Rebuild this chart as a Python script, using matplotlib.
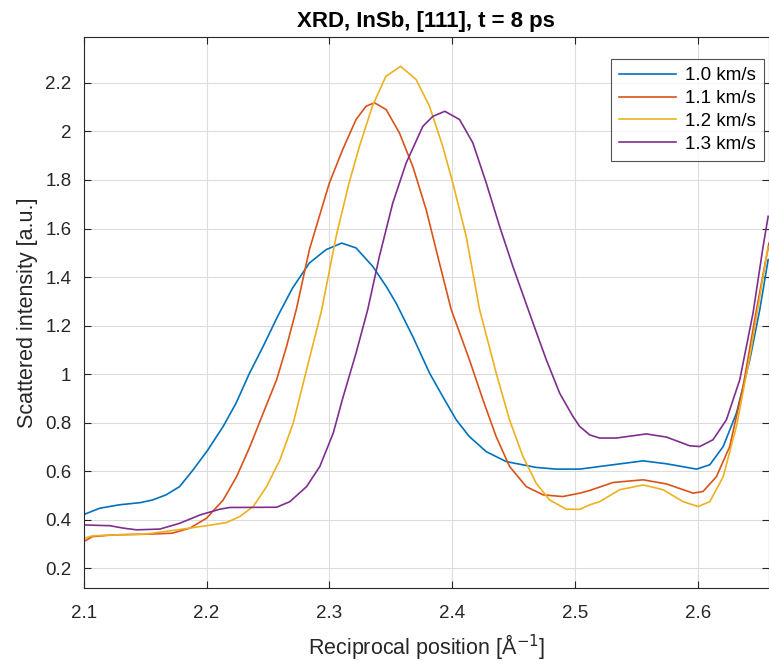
import matplotlib
matplotlib.use("Agg")
import matplotlib.pyplot as plt

plt.rcParams['font.family'] = ['Liberation Sans', 'DejaVu Sans']

labels = ["1.0 km/s", "1.1 km/s", "1.2 km/s", "1.3 km/s"]
colors = ["#0072BD", "#D95319", "#EDB120", "#7E2F8E"]

x_10 = [2.100, 2.113, 2.129, 2.146, 2.156, 2.167, 2.178, 2.189, 2.201, 2.2135, 2.224, 2.235,
        2.246, 2.258, 2.270, 2.2837, 2.2973, 2.310, 2.3217, 2.3353, 2.3462, 2.3543, 2.3679,
        2.3815, 2.3923, 2.4033, 2.414, 2.4277, 2.444, 2.4684, 2.4848, 2.5038, 2.531, 2.5555,
        2.5745, 2.599, 2.6098, 2.6207, 2.6315, 2.6424, 2.6505, 2.6573]
y_10 = [0.422, 0.448, 0.462, 0.471, 0.482, 0.503, 0.537, 0.606, 0.688, 0.785, 0.881, 1.005,
        1.114, 1.240, 1.355, 1.458, 1.513, 1.540, 1.520, 1.444, 1.362, 1.293, 1.155,
        1.005, 0.908, 0.812, 0.743, 0.681, 0.640, 0.616, 0.609, 0.609, 0.627, 0.643,
        0.631, 0.609, 0.627, 0.702, 0.840, 1.060, 1.266, 1.472]

x_11 = [2.100, 2.107, 2.1237, 2.151, 2.172, 2.1864, 2.200, 2.2135, 2.2244, 2.2353, 2.2461,
        2.257, 2.2651, 2.2733, 2.2837, 2.2918, 2.300, 2.3108, 2.3217, 2.3299, 2.3367, 2.3462,
        2.357, 2.3679, 2.3788, 2.3896, 2.3992, 2.414, 2.425, 2.4358, 2.4467, 2.4603, 2.474,
        2.490, 2.5038, 2.512, 2.531, 2.5555, 2.5745, 2.5962, 2.6043, 2.6152, 2.626, 2.6369,
        2.6478, 2.6559, 2.658]
y_11 = [0.311, 0.331, 0.338, 0.341, 0.345, 0.366, 0.407, 0.482, 0.578, 0.702, 0.840,
        0.977, 1.114, 1.272, 1.513, 1.650, 1.788, 1.925, 2.049, 2.104, 2.118, 2.090,
        1.994, 1.856, 1.678, 1.458, 1.266, 1.060, 0.895, 0.743, 0.620, 0.537, 0.503,
        0.496, 0.510, 0.521, 0.554, 0.565, 0.548, 0.510, 0.517, 0.578, 0.702, 0.949,
        1.266, 1.485, 1.540]

x_12 = [2.100, 2.107, 2.1237, 2.151, 2.172, 2.200, 2.2163, 2.2271, 2.238, 2.2488, 2.2597,
        2.2705, 2.2814, 2.2935, 2.3055, 2.316, 2.3245, 2.335, 2.346, 2.358, 2.3706, 2.3815,
        2.3923, 2.4005, 2.4114, 2.4223, 2.4358, 2.4467, 2.4576, 2.4684, 2.4793, 2.4929,
        2.5038, 2.512, 2.5201, 2.5364, 2.5555, 2.5718, 2.588, 2.6003, 2.6098, 2.6207, 2.6315,
        2.6424, 2.6519, 2.6573]
y_12 = [0.324, 0.334, 0.338, 0.342, 0.356, 0.376, 0.389, 0.414, 0.455, 0.537, 0.647,
        0.798, 1.018, 1.260, 1.568, 1.788, 1.939, 2.104, 2.227, 2.268, 2.214, 2.104,
        1.939, 1.788, 1.568, 1.266, 1.005, 0.812, 0.661, 0.551, 0.482, 0.444,
        0.443, 0.462, 0.475, 0.524, 0.544, 0.524, 0.475, 0.455, 0.475, 0.578, 0.785,
        1.073, 1.362, 1.526]

x_13 = [2.100, 2.1212, 2.1321, 2.1429, 2.1619, 2.1782, 2.1945, 2.2108, 2.2189, 2.257, 2.2678,
        2.2814, 2.2922, 2.3031, 2.3108, 2.3217, 2.3312, 2.3407, 2.3516, 2.3625, 2.3761, 2.3842,
        2.394, 2.406, 2.4168, 2.4277, 2.4386, 2.4494, 2.4549, 2.4658, 2.4766, 2.4875, 2.4983,
        2.5038, 2.512, 2.5201, 2.5337, 2.5581, 2.5745, 2.5935, 2.6016, 2.6124, 2.6233, 2.6342,
        2.645, 2.6532, 2.6573]
y_13 = [0.379, 0.376, 0.366, 0.359, 0.362, 0.386, 0.420, 0.444, 0.451, 0.452, 0.475,
        0.537, 0.620, 0.757, 0.900, 1.087, 1.266, 1.485, 1.705, 1.870, 2.021, 2.062,
        2.083, 2.049, 1.953, 1.788, 1.609, 1.444, 1.366, 1.211, 1.060, 0.922, 0.826,
        0.785, 0.750, 0.737, 0.737, 0.754, 0.741, 0.705, 0.702, 0.730, 0.812, 0.977,
        1.252, 1.526, 1.650]

series_x = [x_10, x_11, x_12, x_13]
series_y = [y_10, y_11, y_12, y_13]

xticks = [2.1, 2.2, 2.3, 2.4, 2.5, 2.6]
yticks = [0.2, 0.4, 0.6, 0.8, 1.0, 1.2, 1.4, 1.6, 1.8, 2.0, 2.2]
yticklabels = ["0.2", "0.4", "0.6", "0.8", "1", "1.2", "1.4", "1.6", "1.8", "2", "2.2"]

fig = plt.figure(figsize=(7.69, 6.68), dpi=100)
ax = fig.add_axes([0.109, 0.12, 0.891, 0.825])

for xs, ys, c, lab in zip(series_x, series_y, colors, labels):
    ax.plot(xs, ys, color=c, lw=1.2, label=lab, solid_joinstyle="round")

ax.set_xlim(2.1, 2.658)
ax.set_ylim(0.12, 2.39)
ax.set_xticks(xticks)
ax.set_xticklabels([f"{t:.1f}" for t in xticks])
ax.set_yticks(yticks)
ax.set_yticklabels(yticklabels)

axc = "#262626"
for s in ax.spines.values():
    s.set_color(axc)
    s.set_linewidth(0.8)
ax.tick_params(direction="in", top=True, right=True, length=5, width=0.8,
               colors=axc, labelsize=13.5, labelcolor=axc)
ax.tick_params(axis="x", pad=12.5)
ax.tick_params(axis="y", pad=9)
ax.grid(True, color="#dcdcdc", lw=0.8)
ax.set_axisbelow(True)

ax.set_title("XRD, InSb, [111], t = 8 ps", fontsize=16, fontweight="bold", color="#000000", pad=7)
ax.set_xlabel("Reciprocal position [Å$^{-1}$]", fontsize=15.5, color=axc, labelpad=7.5)
ax.set_ylabel("Scattered intensity [a.u.]", fontsize=15.5, color=axc, labelpad=5)

leg = ax.legend(loc="upper right", bbox_to_anchor=(0.993, 0.96), fontsize=13.5, frameon=True,
                fancybox=False, edgecolor=axc, handlelength=3.0, borderpad=0.45,
                labelspacing=0.3, handletextpad=0.5, borderaxespad=0)
leg.get_frame().set_linewidth(0.8)

fig.savefig("out.png", dpi=100)
